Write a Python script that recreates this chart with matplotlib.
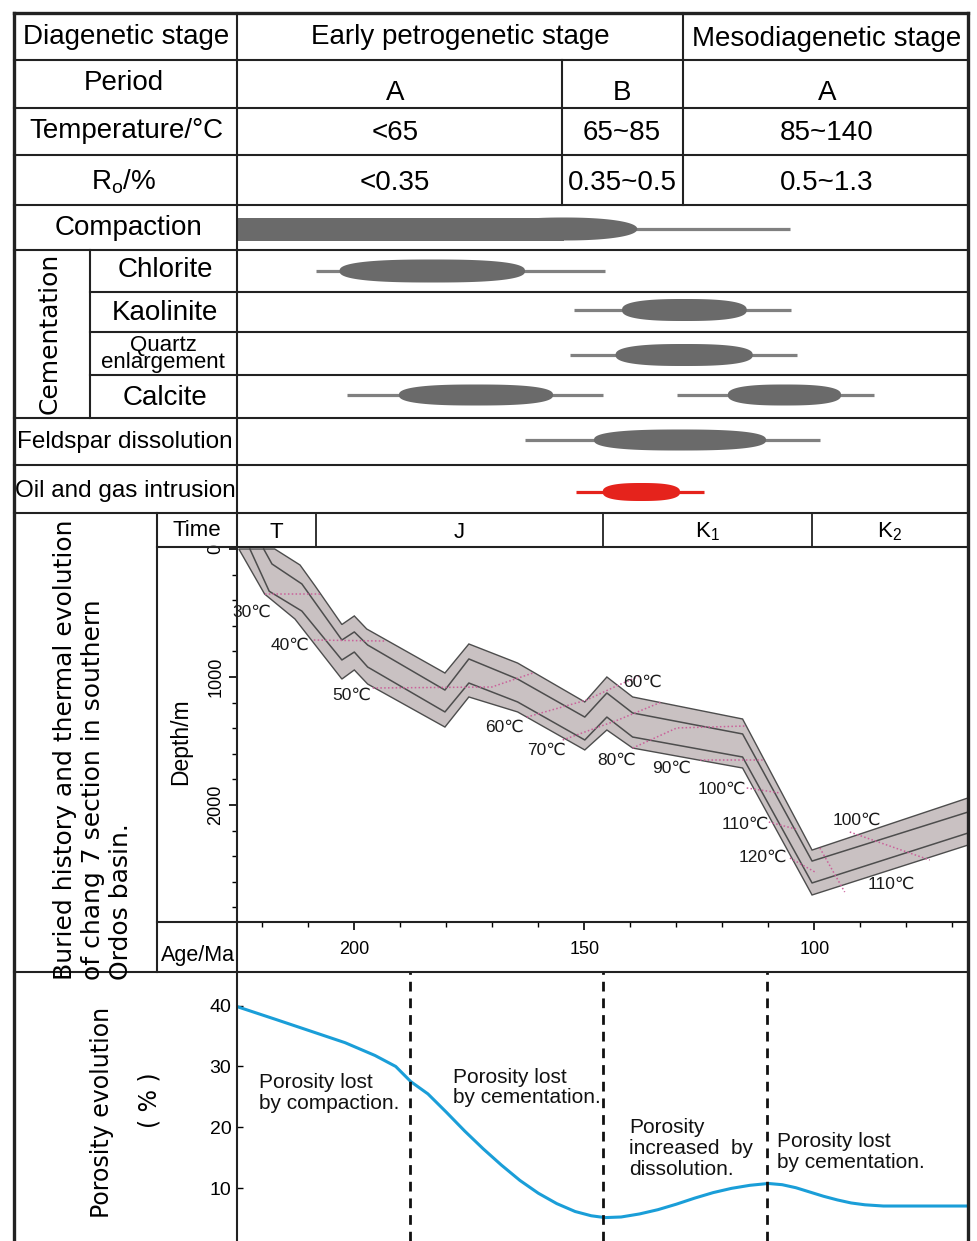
import numpy as np
import matplotlib
matplotlib.use('Agg')
import matplotlib.pyplot as plt
from matplotlib.patches import Rectangle, Polygon
from matplotlib.ticker import MultipleLocator

plt.rcParams['font.family'] = ['Liberation Sans', 'DejaVu Sans']
plt.rcParams['mathtext.fontset'] = 'custom'
plt.rcParams['mathtext.rm'] = 'Liberation Sans'
plt.rcParams['mathtext.it'] = 'Liberation Sans'

W, H = 978, 1241

# ---------------- data ----------------
periods = ['A', 'B', 'A']
temps = ['<65', '65~85', '85~140']
ro_vals = ['<0.35', '0.35~0.5', '0.5~1.3']

events = ['Compaction', 'Chlorite', 'Kaolinite', 'Quartz enlargement',
          'Calcite', 'Calcite', 'Feldspar dissolution', 'Oil and gas intrusion']
ev_start = [225.5, 208.4, 152.3, 153.2, 201.6, 129.9, 162.9, 151.8]   # Ma, thin line
ev_end = [105.3, 145.5, 105.1, 103.8, 146.0, 87.1, 98.8, 124.0]
pk_start = [225.5, 203.2, 141.8, 143.2, 190.3, 118.8, 147.9, 146.0]   # Ma, main phase
pk_end = [138.5, 162.9, 114.7, 113.4, 156.8, 94.2, 110.5, 129.2]

time_names = ['T', 'J', 'K$_1$', 'K$_2$']
time_bounds = [225.5, 208.4, 146.0, 100.6, 66.6]

# burial history (age Ma, depth m)
top_age = [217.3, 211.8, 208.5, 202.7, 200.0, 197.3, 180.3, 175.1, 164.5, 149.9, 145.1, 139.5, 115.6, 100.5, 66.6]
top_dep = [0, 125, 290, 590, 523, 625, 969, 742, 891, 1195, 1000, 1156, 1328, 2352, 1945]
lineA_age = [219.7, 217.9, 211.4, 202.7, 200.0, 197.1, 180.3, 175.1, 164.5, 149.9, 145.1, 139.5, 115.6, 100.5, 66.6]
lineA_dep = [0, 117, 273, 711, 648, 750, 1102, 859, 1016, 1313, 1125, 1281, 1445, 2438, 2055]
lineB_age = [222.7, 218.5, 211.4, 202.7, 200.0, 197.1, 180.3, 175.1, 164.5, 149.9, 145.1, 139.5, 115.6, 100.5, 66.6]
lineB_dep = [0, 330, 485, 867, 805, 922, 1273, 1047, 1195, 1492, 1313, 1469, 1625, 2609, 2219]
bot_age = [225.1, 219.5, 212.9, 202.7, 200.0, 197.1, 180.3, 175.1, 164.5, 149.9, 145.1, 139.5, 115.6, 100.5, 66.6]
bot_dep = [0, 352, 547, 1016, 945, 1055, 1391, 1156, 1273, 1570, 1414, 1555, 1711, 2703, 2313]

# isotherms
iso_ages = [[219.5, 207.5], [208.8, 193.4], [196.0, 170.1, 161.2], [162.5, 149.5, 143.0, 138.0],
            [154.7, 142.7, 133.2], [139.5, 129.9, 115.1], [124.9, 110.8], [114.7, 107.5],
            [109.9, 104.0], [105.3, 99.5], [92.3, 74.9], [98.8, 93.4]]
iso_deps = [[352, 352], [711, 719], [1086, 1078, 969], [1313, 1180, 1070, 992],
            [1492, 1336, 1195], [1555, 1398, 1383], [1648, 1648], [1867, 1906],
            [2133, 2188], [2414, 2531], [2211, 2430], [2336, 2680]]
t_labels = ['30℃', '40℃', '50℃', '60℃', '70℃', '80℃', '90℃', '100℃', '110℃', '120℃', '60℃', '100℃', '110℃']
t_age = [222.3, 214.0, 200.5, 167.3, 158.2, 143.0, 131.0, 120.1, 115.1, 111.2, 137.3, 90.8, 83.2]
t_dep = [492, 750, 1140, 1390, 1570, 1648, 1711, 1875, 2148, 2406, 1039, 2117, 2617]

# porosity evolution
por_age = [225.4, 217.0, 209.1, 202.0, 195.5, 191.0, 187.7, 184.0, 180.0, 176.0, 172.0, 168.0,
           164.0, 160.0, 156.0, 152.0, 148.5, 145.5, 142.0, 138.0, 134.0, 130.0, 126.0, 122.0,
           118.0, 114.0, 110.0, 107.0, 104.0, 101.0, 98.0, 95.0, 92.0, 89.0, 85.0, 80.0, 66.4]
por_val = [39.8, 37.7, 35.7, 33.9, 31.8, 30.0, 27.5, 25.5, 22.5, 19.4, 16.5, 13.8,
           11.3, 9.2, 7.5, 6.2, 5.5, 5.2, 5.3, 5.8, 6.5, 7.4, 8.4, 9.3,
           10.0, 10.5, 10.8, 10.6, 10.1, 9.4, 8.7, 8.1, 7.6, 7.3, 7.1, 7.1, 7.1]
por_bounds = [187.9, 146.0, 110.3]
por_notes = ['Porosity lost\nby compaction.', 'Porosity lost\nby cementation.',
             'Porosity\nincreased  by\ndissolution.', 'Porosity lost\nby cementation.']
note_age = [220.7, 178.6, 140.3, 108.2]
note_val = [28.9, 29.8, 21.5, 19.2]

AGE_LIM = (225.5, 66.6)


def px_rect(x0, y0, x1, y1):
    return [x0 / W, 1 - y1 / H, (x1 - x0) / W, (y1 - y0) / H]


def blob(x0, x1, yc, h, n=2.6):
    # rounded (super-ellipse) lens between x0 and x1
    th = np.linspace(0, 2 * np.pi, 200)
    c, s = np.cos(th), np.sin(th)
    xs = (x0 + x1) / 2 + (x1 - x0) / 2 * np.sign(c) * np.abs(c) ** (2 / n)
    ys = yc + h / 2 * np.sign(s) * np.abs(s) ** (2 / n)
    return np.column_stack([xs, ys])


fig = plt.figure(figsize=(W / 100, H / 100), dpi=100)

# ---------------- diagenetic events ----------------
ax_e = fig.add_axes(px_rect(237, 205, 968, 513))
ax_e.set_xlim(*AGE_LIM)
ax_e.set_ylim(513, 205)
ax_e.axis('off')
row_y = [229, 271, 310, 355, 395, 395, 440, 492]
row_h = [23, 23, 22, 22, 21, 21, 21, 18]
for i in range(len(events)):
    red = events[i].startswith('Oil')
    fc = '#e5231c' if red else '#6a6a6a'
    lc = '#e5231c' if red else '#808080'
    ax_e.plot([ev_start[i], ev_end[i]], [row_y[i], row_y[i]], color=lc, lw=2.3,
              solid_capstyle='butt', zorder=1)
    if i == 0:
        mid = pk_end[i] + 16
        ax_e.add_patch(Rectangle((mid, row_y[i] - row_h[i] / 2), pk_start[i] - mid, row_h[i],
                                 fc=fc, ec='none', zorder=2))
        ax_e.add_patch(Polygon(blob(mid + 16, pk_end[i], row_y[i], row_h[i], 2.2),
                               fc=fc, ec='none', zorder=2))
    else:
        ax_e.add_patch(Polygon(blob(pk_start[i], pk_end[i], row_y[i], row_h[i]),
                               fc=fc, ec='none', zorder=2))

# ---------------- burial history ----------------
ax_b = fig.add_axes(px_rect(237, 547, 968, 922))
ax_b.fill(np.concatenate([top_age, bot_age[::-1]]), np.concatenate([top_dep, bot_dep[::-1]]),
          fc='#c9c1c2', ec='#4d4d4d', lw=1.0, zorder=1)
ax_b.plot(lineA_age, lineA_dep, color='#4d4d4d', lw=1.1, zorder=2)
ax_b.plot(lineB_age, lineB_dep, color='#4d4d4d', lw=1.1, zorder=2)
for a, d in zip(iso_ages, iso_deps):
    ax_b.plot(a, d, color='#c9609a', lw=1.1, ls=(0, (1, 1.5)), zorder=3)
for lab, a, d in zip(t_labels, t_age, t_dep):
    ax_b.text(a, d, lab, fontsize=12.5, ha='center', va='center', color='#1a1a1a', zorder=4)
ax_b.set_xlim(*AGE_LIM)
ax_b.set_ylim(2914, -15.6)
for s in ax_b.spines.values():
    s.set_visible(False)
ax_b.set_xticks([200, 150, 100])
ax_b.xaxis.set_minor_locator(MultipleLocator(10))
ax_b.set_yticks([0, 1000, 2000])
ax_b.yaxis.set_minor_locator(MultipleLocator(200))
ax_b.tick_params(axis='x', which='major', direction='out', length=6, width=1.2, labelsize=13, pad=8)
ax_b.tick_params(axis='x', which='minor', direction='out', length=3.5, width=1.0)
ax_b.tick_params(axis='y', which='major', direction='out', length=6, width=1.2, labelsize=13,
                 pad=3, labelrotation=90)
ax_b.tick_params(axis='y', which='minor', direction='out', length=3.5, width=1.0)
for lab in ax_b.get_yticklabels():
    lab.set_va('center')

# time row above the burial plot
xt = ax_b.get_xaxis_transform()
for b in time_bounds[1:-1]:
    ax_b.plot([b, b], [1.0, 1.0907], transform=xt, color='#222', lw=1.3, clip_on=False)
for i, name in enumerate(time_names):
    ax_b.text((time_bounds[i] + time_bounds[i + 1]) / 2, 1.040, name, transform=xt,
              fontsize=16, ha='center', va='center')

# ---------------- porosity evolution ----------------
ax_p = fig.add_axes(px_rect(237, 972, 968, 1241))
ax_p.plot(por_age, por_val, color='#1a9ed8', lw=2.2, solid_capstyle='round',
          solid_joinstyle='round')
for b in por_bounds:
    ax_p.axvline(b, color='#111', lw=2.0, ls=(0, (3.5, 2.5)))
for txt, a, v in zip(por_notes, note_age, note_val):
    ax_p.text(a, v, txt, fontsize=15, ha='left', va='top', linespacing=1.12, color='#111')
ax_p.set_xlim(*AGE_LIM)
ax_p.set_ylim(1.36, 45.5)
for s in ax_p.spines.values():
    s.set_visible(False)
ax_p.set_xticks([])
ax_p.set_yticks([10, 20, 30, 40])
ax_p.tick_params(axis='y', direction='in', length=4, width=1.0, labelsize=14, pad=4)

# ---------------- table frame ----------------
fr = fig.add_axes([0, 0, 1, 1], zorder=10)
fr.set_xlim(0, W)
fr.set_ylim(H, 0)
fr.axis('off')


def hl(y, x0, x1, lw=1.5):
    fr.plot([x0, x1], [y, y], color='#222', lw=lw, solid_capstyle='projecting')


def vl(x, y0, y1, lw=1.5):
    fr.plot([x, x], [y0, y1], color='#222', lw=lw, solid_capstyle='projecting')


hl(13, 14, 968, 2.4)
vl(14, 13, 1241, 2.4)
vl(968, 13, 1241, 2.4)
for y in [60, 108, 155, 205, 250, 418, 465, 513, 972]:
    hl(y, 14, 968)
for y in [292, 332, 375]:
    hl(y, 90, 968)
hl(547, 157, 968)
hl(922, 157, 968)
vl(237, 13, 1241)
vl(562, 60, 205)
vl(683, 13, 205)
vl(90, 250, 418)
vl(157, 513, 972)

big = 20
fr.text(126, 37, 'Diagenetic stage', fontsize=big, ha='center', va='center')
fr.text(460, 37, 'Early petrogenetic stage', fontsize=big, ha='center', va='center')
fr.text(827, 39, 'Mesodiagenetic stage', fontsize=big, ha='center', va='center')
fr.text(124, 83, 'Period', fontsize=big, ha='center', va='center')
fr.text(126, 131, 'Temperature/°C', fontsize=big, ha='center', va='center')
fr.text(124, 182, 'R$_\\mathrm{o}$/%', fontsize=big, ha='center', va='center')
col_x = [395, 622, 827]
for i in range(3):
    fr.text(col_x[i], 93, periods[i], fontsize=big, ha='center', va='center')
    fr.text(col_x[i], 133, temps[i], fontsize=big, ha='center', va='center')
    fr.text(col_x[i], 183, ro_vals[i], fontsize=big, ha='center', va='center')

fr.text(128, 228, 'Compaction', fontsize=big, ha='center', va='center')
fr.text(50, 333, 'Cementation', fontsize=18, family='DejaVu Sans', rotation=90,
        ha='center', va='center')
fr.text(165, 270, 'Chlorite', fontsize=big, ha='center', va='center')
fr.text(165, 313, 'Kaolinite', fontsize=big, ha='center', va='center')
fr.text(163, 354, 'Quartz\nenlargement', fontsize=16, ha='center', va='center', linespacing=0.8)
fr.text(165, 398, 'Calcite', fontsize=big, ha='center', va='center')
fr.text(125, 442, 'Feldspar dissolution', fontsize=17.5, ha='center', va='center')
fr.text(125, 491, 'Oil and gas intrusion', fontsize=17.5, ha='center', va='center')

t = fr.text(93, 980, 'Buried history and thermal evolution\nof chang 7 section in southern\nOrdos basin.',
            fontsize=18, family='DejaVu Sans', rotation=90, ha='center', va='bottom',
            multialignment='left', linespacing=1.2)
t.set_clip_path(Rectangle((15, 514), 141, 457, transform=fr.transData))
fr.text(197, 530, 'Time', fontsize=16, ha='center', va='center')
fr.text(181, 742, 'Depth/m', fontsize=16.5, rotation=90, ha='center', va='center')
fr.text(198, 956, 'Age/Ma', fontsize=15.5, ha='center', va='center')

fr.text(102, 1112, 'Porosity evolution', fontsize=17, family='DejaVu Sans', rotation=90,
        ha='center', va='center')
fr.text(150, 1100, '( % )', fontsize=17, family='DejaVu Sans', rotation=90,
        ha='center', va='center')

fig.savefig('out.png', dpi=100)
